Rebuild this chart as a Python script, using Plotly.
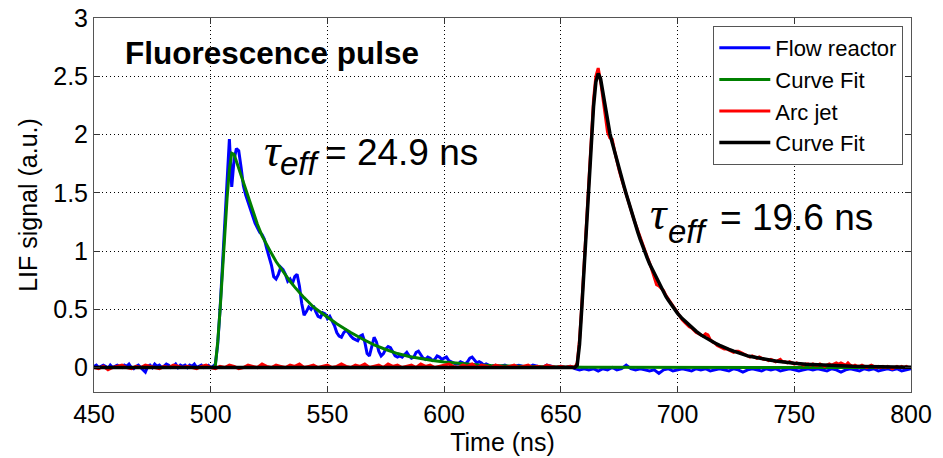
import plotly.graph_objects as go

# ---------------- data ----------------
# Flow reactor measured signal: 1 ns steps 450..620, then 2 ns steps 622..800
flow_time = list(range(450, 621)) + list(range(622, 801, 2))
flow_signal = [
    0.01, 0.02, 0.00, 0.01, 0.02, 0.01, -0.01, 0.02, 0.00, 0.01,
    0.02, 0.01, 0.00, 0.02, 0.01, 0.03, 0.00, -0.01, 0.01, 0.02,
    0.00, -0.02, -0.04, 0.01, 0.02, 0.00, 0.03, 0.01, 0.02, 0.00,
    0.01, 0.03, 0.02, 0.00, 0.01, 0.03, 0.00, 0.02, 0.01, 0.02,
    0.00, 0.02, 0.01, 0.03, 0.00, 0.01, 0.02, 0.00, 0.01, 0.02,
    0.00, 0.01, 0.03, 0.20, 0.50, 0.88, 1.25, 1.62, 1.96, 1.55,
    1.78, 1.88, 1.86, 1.72, 1.56, 1.48, 1.42, 1.36, 1.30, 1.24,
    1.20, 1.16, 1.14, 1.10, 1.02, 0.95, 0.88, 0.78, 0.76, 0.80,
    0.86, 0.84, 0.80, 0.74, 0.76, 0.72, 0.78, 0.80, 0.70, 0.55,
    0.45, 0.48, 0.52, 0.50, 0.53, 0.48, 0.44, 0.43, 0.47, 0.46,
    0.42, 0.44, 0.40, 0.36, 0.30, 0.27, 0.26, 0.30, 0.32, 0.30,
    0.27, 0.25, 0.24, 0.23, 0.27, 0.28, 0.22, 0.12, 0.10, 0.18,
    0.26, 0.22, 0.14, 0.10, 0.12, 0.16, 0.18, 0.17, 0.13, 0.10,
    0.09, 0.10, 0.09, 0.11, 0.13, 0.10, 0.08, 0.09, 0.13, 0.14,
    0.11, 0.08, 0.07, 0.09, 0.08, 0.06, 0.07, 0.10, 0.09, 0.07,
    0.08, 0.09, 0.06, 0.05, 0.04, 0.03, 0.03, 0.05, 0.04, 0.03,
    0.05, 0.08, 0.09, 0.06, 0.04, 0.05, 0.04, 0.02, 0.03, 0.02,
    0.01,
    0.02, 0.01, 0.02, 0.00, 0.01, 0.02, 0.01, 0.00, 0.02, 0.01,
    0.00, 0.02, 0.01, 0.00, 0.01, 0.00, 0.01, -0.01, -0.02, -0.01,
    -0.02, -0.01, -0.03, -0.01, -0.02, 0.00, -0.02, -0.01, 0.02, -0.01,
    -0.02, -0.01, -0.02, -0.03, -0.02, -0.05, -0.02, -0.01, -0.03, -0.02,
    -0.01, -0.02, -0.03, -0.01, -0.02, -0.01, -0.03, -0.02, -0.01, -0.02,
    -0.03, -0.01, -0.02, -0.04, -0.02, -0.01, -0.02, -0.03, -0.01, -0.02,
    -0.01, -0.03, -0.02, -0.01, -0.02, -0.03, -0.02, -0.01, -0.02, -0.01,
    -0.02, -0.03, -0.01, -0.02, -0.04, -0.02, -0.01, -0.02, -0.03, -0.01,
    -0.02, -0.01, -0.03, -0.02, -0.01, -0.02, -0.01, -0.03, -0.02, -0.01,
]

# Flow reactor curve fit
flow_fit_time = [450, 501, 502, 503, 504, 505, 506, 507, 508, 509, 510, 511, 512,
                 513, 514, 515, 516, 517, 518, 519, 520, 522, 524, 526, 528, 530,
                 532, 534, 536, 538, 540, 542, 544, 546, 548, 550, 552, 554, 556,
                 558, 560, 565, 570, 575, 580, 585, 590, 595, 600, 605, 610, 615,
                 620, 630, 640, 660, 700, 800]
flow_fit = [0, 0, 0.02, 0.22, 0.49, 0.82, 1.15, 1.45, 1.70, 1.84, 1.83, 1.77, 1.71,
            1.65, 1.58, 1.52, 1.46, 1.40, 1.34, 1.28, 1.23, 1.13, 1.05, 0.98, 0.91,
            0.85, 0.79, 0.74, 0.69, 0.64, 0.60, 0.56, 0.52, 0.49, 0.46, 0.43, 0.40,
            0.375, 0.35, 0.325, 0.30, 0.245, 0.195, 0.155, 0.12, 0.095, 0.075, 0.06,
            0.047, 0.037, 0.029, 0.022, 0.017, 0.01, 0.006, 0.002, 0.0, 0.0]

# Arc jet measured signal: 2 ns steps 450..654, then 1 ns steps 656..800
arc_time = list(range(450, 655, 2)) + list(range(656, 801))
arc_signal = [
    0.00, -0.01, 0.01, -0.02, 0.00, 0.01, 0.02, 0.00, -0.01, 0.01,
    0.00, 0.02, 0.01, 0.00, -0.01, 0.01, 0.00, 0.02, 0.01, 0.00,
    0.01, 0.00, -0.01, 0.01, 0.02, 0.00, -0.01, 0.01, 0.00, 0.02,
    0.01, -0.01, 0.00, 0.02, 0.01, 0.00, 0.03, 0.01, 0.00, 0.02,
    0.01, 0.00, 0.02, 0.01, 0.03, 0.00, 0.01, 0.02, 0.00, 0.01,
    0.02, 0.00, 0.01, 0.03, 0.01, 0.00, 0.02, 0.01, 0.03, 0.00,
    0.01, 0.02, 0.00, 0.03, 0.01, 0.02, 0.00, 0.01, 0.02, 0.00,
    0.03, 0.01, 0.02, 0.00, 0.01, 0.02, 0.03, 0.01, 0.00, 0.02,
    0.01, 0.03, 0.00, 0.02, 0.01, 0.00, 0.02, 0.01, 0.00, 0.01,
    0.02, 0.00, 0.01, 0.02, 0.00, 0.01, 0.00, 0.02, 0.01, 0.00,
    0.01, 0.00, 0.01,
    0.00, 0.04, 0.24, 0.55, 0.88, 1.24, 1.60, 1.97, 2.30, 2.50,
    2.57, 2.46, 2.32, 2.18, 2.02, 1.97, 1.96, 1.86, 1.76, 1.69,
    1.62, 1.55, 1.50, 1.42, 1.36, 1.29, 1.23, 1.17, 1.11, 1.05,
    1.00, 0.95, 0.90, 0.84, 0.77, 0.71, 0.70, 0.68, 0.66, 0.62,
    0.59, 0.55, 0.52, 0.50, 0.47, 0.44, 0.41, 0.39, 0.37, 0.35,
    0.34, 0.32, 0.30, 0.29, 0.28, 0.27, 0.29, 0.28, 0.24, 0.22,
    0.21, 0.19, 0.18, 0.17, 0.16, 0.16, 0.15, 0.14, 0.13, 0.14,
    0.14, 0.13, 0.12, 0.11, 0.10, 0.09, 0.10, 0.09, 0.08, 0.09,
    0.08, 0.07, 0.07, 0.06, 0.07, 0.06, 0.05, 0.06, 0.07, 0.05,
    0.05, 0.04, 0.05, 0.04, 0.03, 0.04, 0.03, 0.03, 0.02, 0.03,
    0.03, 0.02, 0.03, 0.02, 0.02, 0.03, 0.02, 0.01, 0.02, 0.03,
    0.02, 0.03, 0.04, 0.03, 0.04, 0.03, 0.02, 0.04, 0.02, 0.01,
    0.02, 0.01, 0.01, 0.02, 0.01, 0.00, 0.01, 0.02, 0.01, 0.00,
    0.01, 0.00, 0.01, 0.00, 0.01, 0.00, -0.01, 0.00, 0.01, 0.00,
    0.01, 0.00, 0.01, 0.00, 0.00,
]

# Arc jet curve fit
arc_fit_time = ([450, 656] + list(range(657, 701)) + list(range(702, 751, 2))
                + [755, 760, 765, 770, 775, 780, 790, 800])
arc_fit = [0, 0,
           0.02, 0.20, 0.52, 0.86, 1.21, 1.57, 1.93, 2.24, 2.45, 2.525,
           2.48, 2.36, 2.22, 2.10, 2.01, 1.93, 1.85, 1.77, 1.70, 1.63,
           1.56, 1.49, 1.42, 1.35, 1.28, 1.22, 1.16, 1.10, 1.04, 0.99,
           0.94, 0.89, 0.85, 0.80, 0.76, 0.72, 0.68, 0.65, 0.61, 0.58,
           0.55, 0.52, 0.49, 0.465,
           0.42, 0.38, 0.345, 0.31, 0.28, 0.255, 0.23, 0.21, 0.19, 0.17,
           0.155, 0.14, 0.125, 0.115, 0.10, 0.093, 0.084, 0.076, 0.068, 0.062,
           0.056, 0.05, 0.045, 0.04, 0.036,
           0.028, 0.022, 0.017, 0.013, 0.01, 0.008, 0.005, 0.003]

x_ticks = [450, 500, 550, 600, 650, 700, 750, 800]
y_ticks = [0, 0.5, 1, 1.5, 2, 2.5, 3]
series_names = ["Flow reactor", "Curve Fit", "Arc jet", "Curve Fit"]
tau_values = ["24.9 ns", "19.6 ns"]

# ---------------- figure ----------------
FONT = "Liberation Sans, Arial, sans-serif"
W, H = 943, 458
ML, MR, MT, MB = 94, 32, 18, 66
X_RANGE = [450, 800]
Y_RANGE = [-0.21, 3]

fig = go.Figure()
fig.add_trace(go.Scatter(x=flow_time, y=flow_signal, mode="lines", name=series_names[0],
                         line=dict(color="#0000ff", width=3)))
fig.add_trace(go.Scatter(x=flow_fit_time, y=flow_fit, mode="lines", name=series_names[1],
                         line=dict(color="#008000", width=3)))
fig.add_trace(go.Scatter(x=arc_time, y=arc_signal, mode="lines", name=series_names[2],
                         line=dict(color="#ff0000", width=3)))
fig.add_trace(go.Scatter(x=arc_fit_time, y=arc_fit, mode="lines", name=series_names[3],
                         line=dict(color="#000000", width=3.5)))

pw, ph = W - ML - MR, H - MT - MB


def px_x(px):
    return X_RANGE[0] + (px - ML) * (X_RANGE[1] - X_RANGE[0]) / pw


def px_y(py):
    return Y_RANGE[1] - (py - MT) * (Y_RANGE[1] - Y_RANGE[0]) / ph


annotations = [
    dict(x=px_x(123), y=px_y(53), text="<b>Fluorescence pulse</b>",
         font=dict(family=FONT, size=31.5, color="black")),
    # label 1
    dict(x=px_x(262), y=px_y(150), text="<i>τ</i>",
         font=dict(family="Liberation Serif, serif", size=46, color="black")),
    dict(x=px_x(278), y=px_y(163), text="<i>eff</i>",
         font=dict(family=FONT, size=33, color="black")),
    dict(x=px_x(323), y=px_y(152.5), text="= " + tau_values[0],
         font=dict(family=FONT, size=37, color="black")),
    # label 2
    dict(x=px_x(648), y=px_y(213), text="<i>τ</i>",
         font=dict(family="Liberation Serif, serif", size=46, color="black")),
    dict(x=px_x(666), y=px_y(231.5), text="<i>eff</i>",
         font=dict(family=FONT, size=33, color="black")),
    dict(x=px_x(718), y=px_y(217.5), text="= " + tau_values[1],
         font=dict(family=FONT, size=37, color="black")),
]
for a in annotations:
    a.update(xref="x", yref="y", xanchor="left", yanchor="middle", showarrow=False)

axis_common = dict(
    automargin=False,
    showline=True, linecolor="#555555", linewidth=1, mirror="ticks",
    ticks="inside", ticklen=6, tickcolor="#333333", tickwidth=1,
    showgrid=True, gridcolor="#000000", gridwidth=1, griddash="1px,3px",
    zeroline=False, tickfont=dict(family=FONT, size=25, color="black"),
)

fig.update_layout(
    width=W, height=H,
    margin=dict(l=ML, r=MR, t=MT, b=MB, pad=0, autoexpand=False),
    paper_bgcolor="white", plot_bgcolor="white",
    font=dict(family=FONT, color="black"),
    xaxis=dict(range=X_RANGE, tickvals=x_ticks, ticklabelstandoff=0,
               title=dict(text="Time (ns)", font=dict(family=FONT, size=25), standoff=6),
               **axis_common),
    yaxis=dict(range=Y_RANGE, tickvals=y_ticks, ticklabelstandoff=0,
               title=dict(text="LIF signal (a.u.)", font=dict(family=FONT, size=25), standoff=8),
               **axis_common),
    legend=dict(x=(903.3 - ML) / pw, y=(H - MB - 26) / ph, xanchor="right", yanchor="top",
                bgcolor="white", bordercolor="#555555", borderwidth=1,
                font=dict(family=FONT, size=22, color="black"),
                itemwidth=51, tracegroupgap=0),
    annotations=annotations,
    showlegend=True,
)

fig.write_html("out.html", config={"displayModeBar": False},
               post_script="document.body.style.margin='0px';")
